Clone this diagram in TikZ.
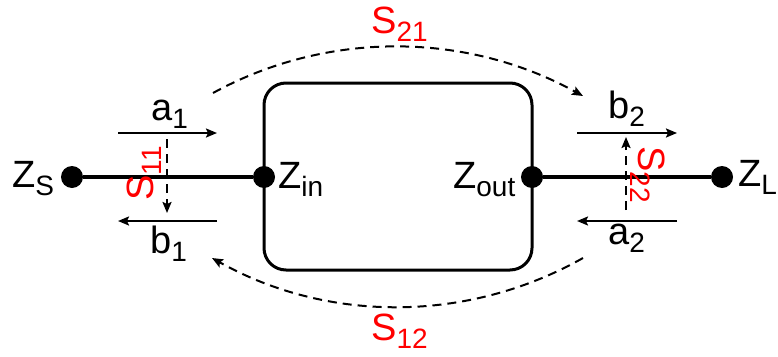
\documentclass[tikz,border=0pt]{standalone}
\usepackage{fontspec}
\setmainfont{Liberation Sans}
\usetikzlibrary{arrows.meta}
\newcommand{\lsub}[1]{\raisebox{-8pt}{\fontsize{28}{28}\selectfont #1}}
\begin{document}
\begin{tikzpicture}[x=1pt,y=-1pt,
  dot/.style={circle,fill=black,inner sep=0pt,minimum size=22pt},
  lbl/.style={anchor=base west,inner sep=0pt,font=\fontsize{38}{40}\selectfont},
  slbl/.style={lbl,text=red},
  wire/.style={line width=4pt},
  wave/.style={line width=2pt,-{Stealth[length=11pt,width=9pt,inset=2pt]}},
  sdash/.style={line width=2pt,dash pattern=on 9pt off 6pt,-{Stealth[length=11pt,width=9pt,inset=2pt]}},
  netbox/.style={draw,line width=3pt,rounded corners=22pt,minimum width=268pt,minimum height=187pt,inner sep=0pt}
]
\useasboundingbox (0,0) rectangle (778,356);
% two-port box
\node[netbox] (net) at (398,176.5) {};
% ports
\node[dot] (zs) at (72,177) {};
\node[dot] (zin) at (264,177) {};
\node[dot] (zout) at (532,177) {};
\node[dot] (zl) at (722,177) {};
\draw[wire] (zs) -- (zin);
\draw[wire] (zout) -- (zl);
% port labels
\node[lbl] (tzs) at (12,187) {Z\lsub{S}};
\node[lbl] (tzin) at (278,188) {Z\lsub{in}};
\node[lbl] (tzout) at (453,188) {Z\lsub{out}};
\node[lbl] (tzl) at (738,186) {Z\lsub{L}};
% wave arrows
\coordinate (a1s) at (118,133); \coordinate (a1e) at (217,133);
\coordinate (b1s) at (217,221); \coordinate (b1e) at (118,221);
\coordinate (b2s) at (577,133); \coordinate (b2e) at (677,133);
\coordinate (a2s) at (677,221); \coordinate (a2e) at (577,221);
\draw[wave] (a1s) -- (a1e);
\draw[wave] (b1s) -- (b1e);
\draw[wave] (b2s) -- (b2e);
\draw[wave] (a2s) -- (a2e);
\node[lbl] (ta1) at (151,120) {a\lsub{1}};
\node[lbl] (tb1) at (150,253) {b\lsub{1}};
\node[lbl] (tb2) at (608,118) {b\lsub{2}};
\node[lbl] (ta2) at (608,244) {a\lsub{2}};
% reflection arrows
\coordinate (s11s) at (167,139); \coordinate (s11e) at (167,213);
\coordinate (s22s) at (626,210); \coordinate (s22e) at (626,137);
\draw[sdash] (s11s) -- (s11e);
\draw[sdash] (s22s) -- (s22e);
\node[slbl,rotate=90] (ts11) at (153,201) {S\lsub{11}};
\node[slbl,rotate=-90] (ts22) at (638,146) {S\lsub{22}};
% transmission arcs
\coordinate (s21s) at (213,93); \coordinate (s21e) at (583,96);
\coordinate (s12s) at (583,258); \coordinate (s12e) at (212,258);
\draw[sdash] (s21s) .. controls (328,30) and (467,32) .. (s21e);
\draw[sdash] (s12s) .. controls (468,323) and (328,323) .. (s12e);
\node[slbl] (ts21) at (371,33) {S\lsub{21}};
\node[slbl] (ts12) at (371,340) {S\lsub{12}};
\end{tikzpicture}
\end{document}
